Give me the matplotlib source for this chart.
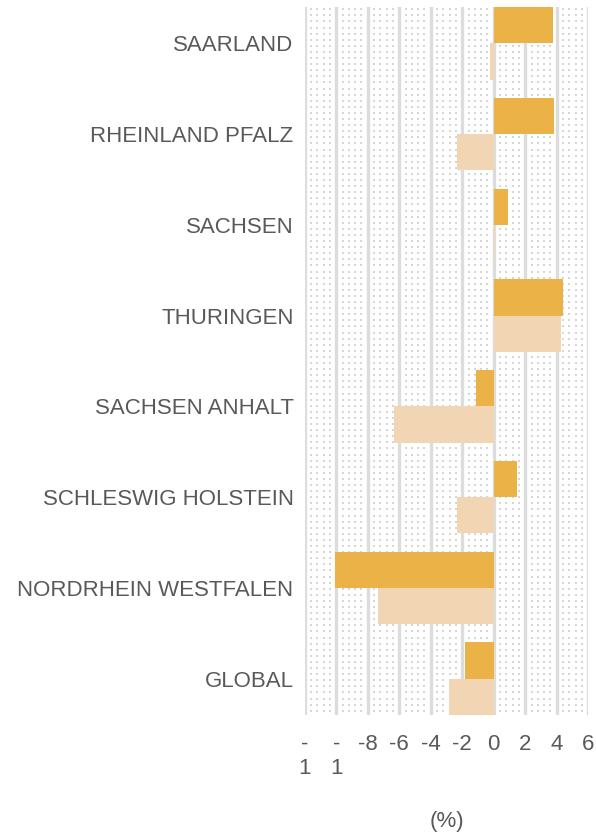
#! /usr/bin/env python3

import numpy as np
import matplotlib
matplotlib.use("Agg")
import matplotlib.pyplot as plt
from matplotlib.transforms import blended_transform_factory

# data
regions = ["SAARLAND", "RHEINLAND PFALZ", "SACHSEN", "THURINGEN",
           "SACHSEN ANHALT", "SCHLESWIG HOLSTEIN", "NORDRHEIN WESTFALEN",
           "GLOBAL"]
series_a = [3.75, 3.8, 0.9, 4.4, -1.15, 1.45, -10.05, -1.8]
series_b = [-0.25, -2.35, 0.1, 4.27, -6.33, -2.35, -7.37, -2.85]
x_ticks = [-12, -10, -8, -6, -4, -2, 0, 2, 4, 6]
x_tick_labels = ["-\n1", "-\n1", "-8", "-6", "-4", "-2", "0", "2", "4", "6"]

dark = "#EBB347"
light = "#F2D6B4"
text_col = "#595959"
grid_col = "#DCDCDC"

plt.rcParams["font.family"] = ["Liberation Sans", "DejaVu Sans"]
plt.rcParams["font.size"] = 16

fig = plt.figure(figsize=(5.96, 8.34), dpi=100)
W, H = 596, 834
ax = fig.add_axes([304.7 / W, 1 - 715 / H, (588.3 - 304.7) / W, (715 - 7) / H])

y = np.arange(len(regions))
ax.barh(y - 0.2, series_a, height=0.4, color=dark, zorder=3)
ax.barh(y + 0.2, series_b, height=0.4, color=light, zorder=3)

ax.set_xlim(-12, 6)
ax.set_ylim(len(regions) - 0.6, -0.4)

# dotted background texture between the gridlines
tr = blended_transform_factory(ax.transData, ax.transAxes)
dx = np.concatenate([np.arange(x0 + 0.4, x0 + 1.7, 0.4) for x0 in x_ticks[:-1]])
dy = np.arange(0.006, 1.0, 6.1 / 708)
gx, gy = np.meshgrid(dx, dy)
ax.scatter(gx.ravel(), gy.ravel(), s=3.6, marker="s", color="#D6D6D6",
           linewidths=0, transform=tr, zorder=1, clip_on=False)

for xv in x_ticks:
    ax.axvline(xv, color=grid_col, lw=2.4, zorder=2)

ax.set_xticks(x_ticks)
ax.set_xticklabels(x_tick_labels, color=text_col)
ax.set_yticks(y)
ax.set_yticklabels(regions, color=text_col)
ax.tick_params(axis="both", length=0)
ax.tick_params(axis="x", pad=13.5)
ax.tick_params(axis="y", pad=8)
ax.set_xlabel("(%)", color=text_col, labelpad=23)

for s in ax.spines.values():
    s.set_visible(False)

plt.savefig("out.png", dpi=100)
plt.close(fig)
